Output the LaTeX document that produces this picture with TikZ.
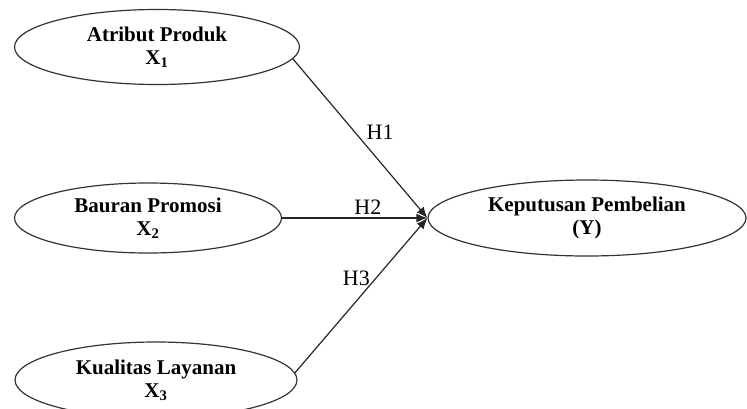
\documentclass[tikz,border=0pt]{standalone}
\usepackage{fontspec}
\setmainfont{Liberation Serif}
\usetikzlibrary{arrows.meta,shapes.geometric}
\begin{document}
\begin{tikzpicture}[x=1pt,y=-1pt,font=\fontsize{22}{24}\selectfont,
  var/.style={draw=black!80,line width=1.2pt,ellipse,inner sep=0pt,align=center,font=\fontsize{21}{23}\selectfont\bfseries},
  link/.style={draw=black!85,line width=1.2pt,-{Latex[length=11pt,width=9pt]}}]
\useasboundingbox (0,0) rectangle (747,408);
\node[var,minimum width=285,minimum height=75] (attr) at (157,47) {Atribut Produk\\X\textsubscript{1}};
\node[var,minimum width=267,minimum height=70] (promo) at (148,218) {Bauran Promosi\\X\textsubscript{2}};
\node[var,minimum width=282,minimum height=76] (layanan) at (156,380) {Kualitas Layanan\\X\textsubscript{3}};
\node[var,minimum width=318,minimum height=76] (keputusan) at (587,218) {Keputusan Pembelian\\(Y)};
\draw[link] (attr.-5) -- (keputusan.west) node[pos=.46,right,xshift=8pt] {H1};
\draw[link] (promo.east) -- (keputusan.west) node[pos=.59,above,inner sep=3pt] {H2};
\draw[link] (layanan.3) -- (keputusan.west) node[pos=.61,left,xshift=-2pt] {H3};
\end{tikzpicture}
\end{document}
